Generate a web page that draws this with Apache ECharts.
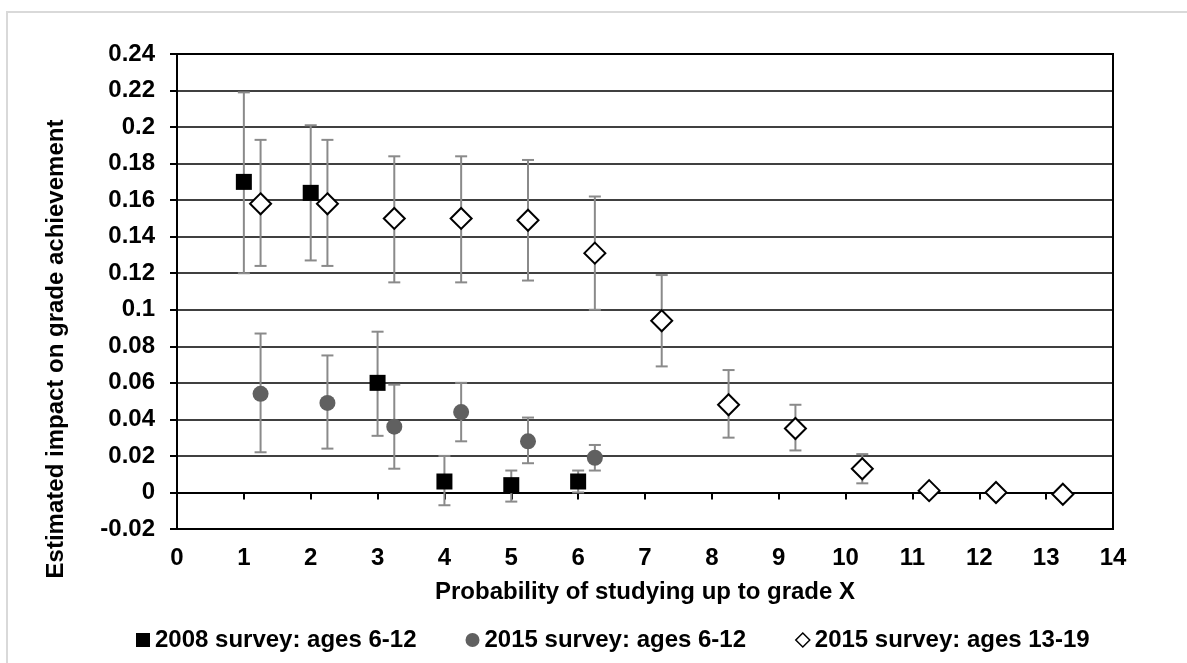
<!DOCTYPE html>
<html>
<head>
<meta charset="utf-8">
<script src="https://cdn.jsdelivr.net/npm/echarts@6/dist/echarts.min.js"></script>
<style>
html,body{margin:0;padding:0;background:#fff;}
#c{width:1187px;height:663px;}
</style>
</head>
<body>
<div id="c"></div>
<script>
// ---- data ----
const xTicks = [0,1,2,3,4,5,6,7,8,9,10,11,12,13,14];
const yTicks = [-0.02,0,0.02,0.04,0.06,0.08,0.1,0.12,0.14,0.16,0.18,0.2,0.22,0.24];

const s1Name = '2008 survey: ages 6-12';
const s1X  = [1, 2, 3, 4, 5, 6];
const s1Y  = [0.170, 0.164, 0.060, 0.006, 0.004, 0.006];
const s1Lo = [0.120, 0.127, 0.031, -0.007, -0.005, 0.000];
const s1Hi = [0.219, 0.201, 0.088, 0.020, 0.012, 0.012];

const s2Name = '2015 survey: ages 6-12';
const s2X  = [1.25, 2.25, 3.25, 4.25, 5.25, 6.25];
const s2Y  = [0.054, 0.049, 0.036, 0.044, 0.028, 0.019];
const s2Lo = [0.022, 0.024, 0.013, 0.028, 0.016, 0.012];
const s2Hi = [0.087, 0.075, 0.059, 0.060, 0.041, 0.026];

const s3Name = '2015 survey: ages 13-19';
const s3X  = [1.25, 2.25, 3.25, 4.25, 5.25, 6.25, 7.25, 8.25, 9.25, 10.25, 11.25, 12.25, 13.25];
const s3Y  = [0.158, 0.158, 0.150, 0.150, 0.149, 0.131, 0.094, 0.048, 0.035, 0.013, 0.001, 0.000, -0.001];
const s3Lo = [0.124, 0.124, 0.115, 0.115, 0.116, 0.100, 0.069, 0.030, 0.023, 0.005, null, null, null];
const s3Hi = [0.193, 0.193, 0.184, 0.184, 0.182, 0.162, 0.119, 0.067, 0.048, 0.021, null, null, null];

const xTitle = 'Probability of studying up to grade X';
const yTitle = 'Estimated impact on grade achievement';

// ---- build ----
const FONT = 'Liberation Sans, Arial, sans-serif';
function pts(xs, ys){ return xs.map((x,i)=>[x, ys[i]]); }
function errs(xs, lo, hi){ const out=[]; xs.forEach((x,i)=>{ if(lo[i]!==null && hi[i]!==null) out.push([x, lo[i], hi[i]]); }); return out; }
const errData = errs(s1X,s1Lo,s1Hi).concat(errs(s2X,s2Lo,s2Hi)).concat(errs(s3X,s3Lo,s3Hi));

const chart = echarts.init(document.getElementById('c'), null, {renderer:'canvas'});
chart.setOption({
  animation:false,
  backgroundColor:'#fff',
  textStyle:{fontFamily:FONT},
  graphic:[
    {type:'rect', silent:true, z:-10, shape:{x:7, y:12, width:1400, height:900},
     style:{fill:'#fff', stroke:'#d9d9d9', lineWidth:2}},
    {type:'text', silent:true, x:56, y:349, rotation:Math.PI/2,
     style:{text:yTitle, font:'bold 24px '+FONT, fill:'#000', align:'center', verticalAlign:'middle'}}
  ],
  grid:{left:177, right:74, top:54, bottom:134, show:true, borderColor:'#000', borderWidth:2, backgroundColor:'transparent'},
  xAxis:{
    type:'value', min:xTicks[0], max:xTicks[xTicks.length-1], interval:1,
    name:xTitle, nameLocation:'middle', nameGap:51,
    nameTextStyle:{fontSize:24, fontWeight:'bold', color:'#000', fontFamily:FONT},
    axisLine:{show:true, onZero:true, lineStyle:{color:'#000', width:2}},
    axisTick:{show:true, length:7, lineStyle:{color:'#000', width:2}},
    axisLabel:{margin:17, fontSize:24, fontWeight:'bold', color:'#000', fontFamily:FONT},
    splitLine:{show:false}
  },
  yAxis:{
    type:'value', min:yTicks[0], max:yTicks[yTicks.length-1], interval:0.02,
    axisLine:{show:true, lineStyle:{color:'#000', width:2}},
    axisTick:{show:true, length:7, lineStyle:{color:'#000', width:2}},
    axisLabel:{margin:22, fontSize:24, fontWeight:'bold', color:'#000', fontFamily:FONT,
      formatter:v=>String(+(+v).toFixed(2))},
    splitLine:{show:true, lineStyle:{color:'#000', width:1.5}}
  },
  legend:{
    left:131, top:623, itemWidth:14, itemHeight:14, itemGap:49,
    textStyle:{fontSize:24, fontWeight:'bold', color:'#000', fontFamily:FONT},
    data:[
      {name:s1Name, icon:'rect', itemStyle:{color:'#000', borderWidth:0}},
      {name:s2Name, icon:'circle', itemStyle:{color:'#606060', borderWidth:0}},
      {name:s3Name, icon:'diamond', itemStyle:{color:'#fff', borderColor:'#000', borderWidth:1.5}}
    ]
  },
  series:[
    {type:'custom', name:'errors', z:1, silent:true, data:errData,
     encode:{x:0, y:[1,2]},
     renderItem:function(params, api){
       const x = api.value(0);
       const pLo = api.coord([x, api.value(1)]);
       const pHi = api.coord([x, api.value(2)]);
       const cap = 6;
       const st = {stroke:'#8a8a8a', lineWidth:2};
       return {type:'group', children:[
         {type:'line', shape:{x1:pLo[0], y1:pLo[1], x2:pHi[0], y2:pHi[1]}, style:st},
         {type:'line', shape:{x1:pLo[0]-cap, y1:pLo[1], x2:pLo[0]+cap, y2:pLo[1]}, style:st},
         {type:'line', shape:{x1:pHi[0]-cap, y1:pHi[1], x2:pHi[0]+cap, y2:pHi[1]}, style:st}
       ]};
     }},
    {type:'scatter', name:s1Name, z:3, data:pts(s1X,s1Y), symbol:'rect', symbolSize:16,
     itemStyle:{color:'#000', opacity:1}},
    {type:'scatter', name:s2Name, z:3, data:pts(s2X,s2Y), symbol:'circle', symbolSize:16,
     itemStyle:{color:'#606060', opacity:1}},
    {type:'scatter', name:s3Name, z:3, data:pts(s3X,s3Y), symbol:'diamond', symbolSize:21,
     itemStyle:{color:'#fff', borderColor:'#000', borderWidth:2, opacity:1}}
  ]
});
</script>
</body>
</html>
